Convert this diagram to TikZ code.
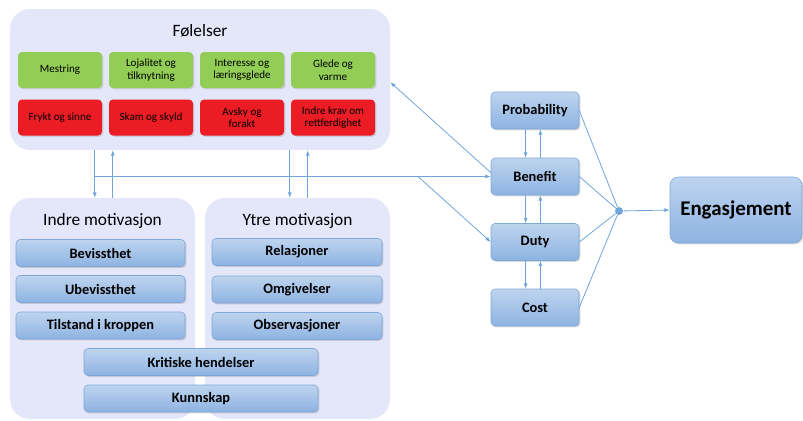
\documentclass[tikz,border=0pt]{standalone}
\usepackage{fontspec}
\setmainfont{Carlito}
\usetikzlibrary{arrows.meta,positioning,shadows}
\definecolor{panelfill}{HTML}{E4E6FA}
\definecolor{barlight}{HTML}{BED4EE}
\definecolor{bardark}{HTML}{8DB3E2}
\definecolor{baredge}{HTML}{7FA7D8}
\definecolor{goodgreen}{HTML}{92CD55}
\definecolor{badred}{HTML}{EC1C24}
\definecolor{linkblue}{HTML}{6FA5DC}

\begin{document}
\begin{tikzpicture}[
  x=0.75pt,y=-0.75pt,
  >={Latex[length=4pt,width=3pt]},
  panel/.style={fill=panelfill,rounded corners=15pt,inner sep=0pt},
  title/.style={font=\fontsize{13}{15}\selectfont},
  feeling/.style={rounded corners=3pt,minimum width=63pt,minimum height=27pt,
    align=center,inner sep=1pt,font=\fontsize{8.3}{9.3}\selectfont,
    drop shadow={opacity=0.25,shadow xshift=1pt,shadow yshift=-1pt}},
  good/.style={feeling,fill=goodgreen},
  bad/.style={feeling,fill=badred},
  bar/.style={draw=baredge,top color=barlight,bottom color=bardark,
    rounded corners=3pt,minimum height=20.25pt,inner sep=1pt,
    font=\fontsize{10.8}{12}\selectfont\bfseries,
    drop shadow={opacity=0.3,shadow xshift=1pt,shadow yshift=-1pt}},
  link/.style={draw=linkblue,line width=0.6pt}
]
\useasboundingbox (0,0) rectangle (803,421);

% panels
\node[panel,minimum width=285pt,minimum height=105.75pt] (folelser) at (200,79.5) {};
\node[panel,minimum width=138.75pt,minimum height=165.75pt] (indre) at (102.5,308.5) {};
\node[panel,minimum width=138.75pt,minimum height=165.75pt] (ytre) at (297.5,308.5) {};
\node[title] (folelsertitle) at (200,31) {Følelser};
\node[title] (indretitle) at (102.5,221) {Indre motivasjon};
\node[title] (ytretitle) at (297.5,221) {Ytre motivasjon};

% feelings
\foreach \x/\name/\lab in {60/mestring/Mestring,151/lojalitet/Lojalitet og\\tilknytning,
  242/interesse/Interesse og\\læringsglede,333/glede/Glede og\\varme}{
  \node[good] (\name) at (\x,70) {\lab};
}
\foreach \x/\name/\lab in {60/frykt/Frykt og sinne,151/skam/Skam og skyld,
  242/avsky/Avsky og\\forakt,333/krav/Indre krav om\\rettferdighet}{
  \node[bad] (\name) at (\x,117.5) {\lab};
}

% motivation bars
\foreach \y/\name/\lab in {253/bevissthet/Bevissthet,289/ubevissthet/Ubevissthet,
  325.5/tilstand/Tilstand i kroppen}{
  \node[bar,minimum width=126.75pt] (\name) at (100.5,\y) {\lab};
}
\foreach \y/\name/\lab in {252/relasjoner/Relasjoner,289.5/omgivelser/Omgivelser,
  326/observasjoner/Observasjoner}{
  \node[bar,minimum width=127.5pt] (\name) at (297,\y) {\lab};
}
\node[bar,minimum width=175.5pt] (kritiske) at (201,362) {Kritiske hendelser};
\node[bar,minimum width=175.5pt] (kunnskap) at (201,398.5) {Kunnskap};

% decision boxes
\foreach \y/\name/\lab in {110.5/prob/Probability,176.5/ben/Benefit,
  242/duty/Duty,307.5/cost/Cost}{
  \node[bar,minimum width=66pt,minimum height=27.75pt] (\name) at (535,\y) {\lab};
}
\node[bar,minimum width=99pt,minimum height=49.5pt,rounded corners=6pt,
  font=\fontsize{15.7}{18}\selectfont\bfseries] (eng) at (736,210) {Engasjement};
\node[circle,fill=linkblue,inner sep=0pt,minimum size=6pt] (dot) at (619,211) {};

% links between panels
\draw[link,->] ([xshift=63.75pt]folelser.south west) -- ([xshift=63.75pt]indre.north west);
\draw[link,->] ([xshift=77.25pt]indre.north west) -- ([xshift=77.25pt]folelser.south west);
\draw[link,->] ([xshift=210pt]folelser.south west) -- ([xshift=63.75pt]ytre.north west);
\draw[link,->] ([xshift=77.25pt]ytre.north west) -- ([xshift=223.5pt]folelser.south west);

\coordinate (hub) at (95,176.5);
\coordinate (split) at (418,176.5);
\draw[link,->] (hub) -- (ben.west);
\draw[link,->] (split) -- (duty.west);
\draw[link,->] ([yshift=3pt]ben.west) -- ([yshift=-2pt]folelser.east);

% links between decision boxes
\foreach \a/\b in {prob/ben,ben/duty,duty/cost}{
  \draw[link,->] ([xshift=-7pt]\a.south) -- ([xshift=-7pt]\b.north);
  \draw[link,->] ([xshift=4pt]\b.north) -- ([xshift=4pt]\a.south);
}
\foreach \name in {prob,ben,duty,cost}{
  \draw[link] (\name.east) -- (dot);
}
\draw[link,->] (dot) -- (eng.west);
\end{tikzpicture}
\end{document}
